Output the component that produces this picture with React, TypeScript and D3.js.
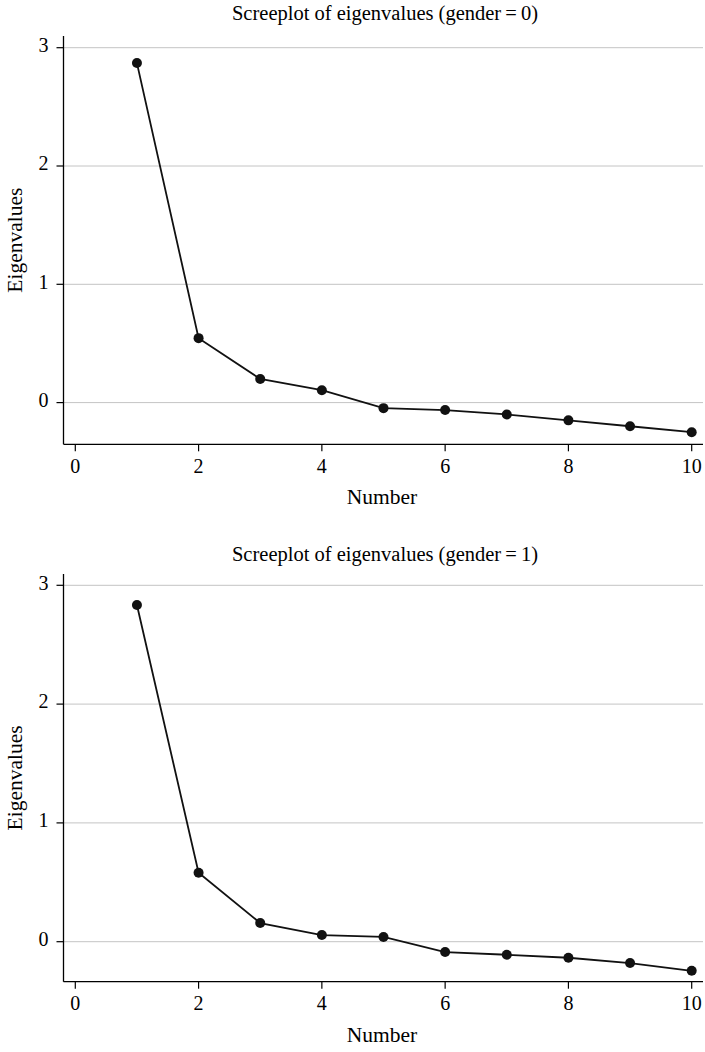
import React from "react";
import * as d3 from "d3";

// Eigenvalues by factor number, one series per gender group
const factorNumbers = [1, 2, 3, 4, 5, 6, 7, 8, 9, 10];
const eigenGender0 = [2.87, 0.545, 0.2, 0.105, -0.047, -0.063, -0.1, -0.15, -0.2, -0.25];
const eigenGender1 = [2.834, 0.58, 0.157, 0.056, 0.04, -0.087, -0.11, -0.135, -0.18, -0.245];
const xTicks = [0, 2, 4, 6, 8, 10];
const yTicks = [0, 1, 2, 3];
const panelTitles = [
  "Screeplot of eigenvalues (gender\u2009=\u20090)",
  "Screeplot of eigenvalues (gender\u2009=\u20091)",
];

const W = 705;
const H = 1052;
const FONT = "'Liberation Serif', 'DejaVu Serif', serif";

type PanelProps = {
  title: string;
  titleY: number;
  values: number[];
  top: number; // y of value 3
  zero: number; // y of value 0
  axisY: number; // y of the x axis line
  axisTop: number;
};

function Panel({ title, titleY, values, top, zero, axisY, axisTop }: PanelProps) {
  const left = 63.5;
  const right = 703;
  const x = d3.scaleLinear().domain([0, 10]).range([75.3, 691.7]);
  const y = d3.scaleLinear().domain([0, 3]).range([zero, top]);
  const line = d3
    .line<number>()
    .x((_, i) => x(factorNumbers[i]))
    .y((d) => y(d));
  const midY = (axisTop + axisY) / 2;
  return (
    <g>
      <text x={385} y={titleY} textAnchor="middle" fontSize={20.5} fontFamily={FONT}>
        {title}
      </text>
      {yTicks.map((t) => (
        <g key={"y" + t}>
          <line x1={left} x2={right} y1={y(t)} y2={y(t)} stroke="#c4c4c4" strokeWidth={1} />
          <line x1={left - 7} x2={left} y1={y(t)} y2={y(t)} stroke="#000" strokeWidth={1.2} />
          <text x={left - 15} y={y(t) + 4.3} textAnchor="end" fontSize={20} fontFamily={FONT}>
            {t}
          </text>
        </g>
      ))}
      {xTicks.map((t) => (
        <g key={"x" + t}>
          <line x1={x(t)} x2={x(t)} y1={axisY} y2={axisY + 7} stroke="#000" strokeWidth={1.2} />
          <text x={x(t)} y={axisY + 28.7} textAnchor="middle" fontSize={20} fontFamily={FONT}>
            {t}
          </text>
        </g>
      ))}
      <line x1={left} x2={left} y1={axisTop} y2={axisY} stroke="#000" strokeWidth={1.3} />
      <line x1={left} x2={right} y1={axisY} y2={axisY} stroke="#000" strokeWidth={1.3} />
      <text x={382} y={axisY + 60} textAnchor="middle" fontSize={21.5} fontFamily={FONT}>
        Number
      </text>
      <text
        transform={`translate(22,${midY}) rotate(-90)`}
        textAnchor="middle"
        fontSize={21.5}
        fontFamily={FONT}
      >
        Eigenvalues
      </text>
      <path d={line(values) ?? ""} fill="none" stroke="#111" strokeWidth={1.8} />
      {values.map((v, i) => (
        <circle key={i} cx={x(factorNumbers[i])} cy={y(v)} r={5} fill="#111" />
      ))}
    </g>
  );
}

export default function App() {
  return (
    <svg width={W} height={H} style={{ position: "absolute", left: 0, top: 0, background: "#fff" }}>
      <rect width={W} height={H} fill="#fff" />
      <Panel
        title={panelTitles[0]}
        titleY={20}
        values={eigenGender0}
        top={47.7}
        zero={402.6}
        axisY={444.3}
        axisTop={36}
      />
      <Panel
        title={panelTitles[1]}
        titleY={561}
        values={eigenGender1}
        top={585.3}
        zero={941.7}
        axisY={981.7}
        axisTop={574}
      />
    </svg>
  );
}
